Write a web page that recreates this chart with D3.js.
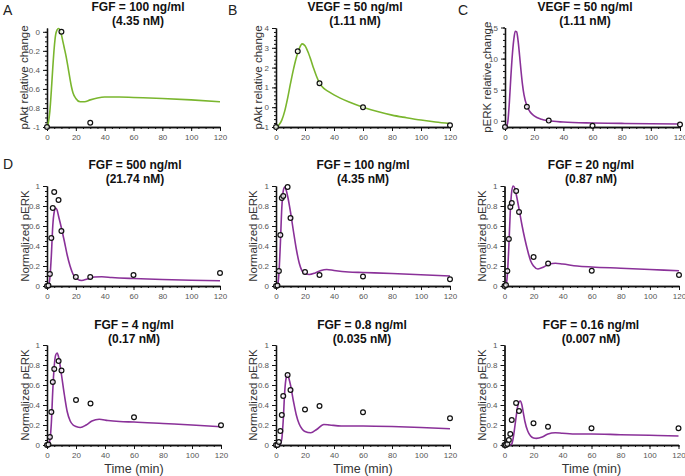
<!DOCTYPE html>
<html>
<head>
<meta charset="utf-8">
<script src="https://cdn.jsdelivr.net/npm/d3@7"></script>
<style>
  body { margin: 0; background: #fff; }
  text { font-family: "Liberation Sans", Arial, sans-serif; }
</style>
</head>
<body>
<div id="chart"></div>
<script>
const width = 685;
const height = 476;

// ---- data ----
const xTicks = [0, 20, 40, 60, 80, 100, 120];
const dTimes = [0, 1, 2, 3, 4, 5, 8, 10, 20, 30, 60, 120];

// A: pAkt, FGF 100 ng/ml
const aCurveT = [0, 1, 2, 3, 4, 5, 6, 7, 8, 9, 10, 11, 12, 13, 14, 15, 16, 17, 18, 20, 23, 26, 30, 35, 40, 50, 60, 80, 100, 120];
const aCurveV = [-1, -0.95, -0.83, -0.62, -0.38, -0.17, -0.03, 0.02, 0.035, 0.02, -0.03, -0.1, -0.17, -0.24, -0.32, -0.41, -0.5, -0.58, -0.64, -0.7, -0.735, -0.735, -0.715, -0.695, -0.685, -0.685, -0.69, -0.7, -0.715, -0.735];
const aPtsT = [0, 10, 30];
const aPtsV = [-1, 0, -0.955];

// B: pAkt, VEGF 50 ng/ml
const bCurveT = [0, 2, 4, 6, 8, 10, 12, 14, 16, 18, 20, 22, 24, 26, 28, 30, 33, 36, 40, 50, 60, 70, 80, 90, 100, 110, 120];
const bCurveV = [-1, -0.9, -0.65, -0.2, 0.45, 1.2, 1.9, 2.5, 2.95, 3.2, 3.1, 2.8, 2.4, 1.95, 1.55, 1.22, 0.95, 0.8, 0.62, 0.27, 0.0, -0.22, -0.4, -0.53, -0.65, -0.75, -0.83];
const bPtsT = [0, 15, 30, 60, 120];
const bPtsV = [-1, 2.82, 1.21, 0.0, -0.91];

// C: pERK, VEGF 50 ng/ml
const cCurveT = [0, 1, 2, 3, 4, 5, 6, 7, 8, 9, 10, 11, 12, 13, 15, 17, 20, 25, 30, 40, 60, 80, 100, 120];
const cCurveV = [-1, -0.9, 0, 3, 7, 10.5, 13, 14.4, 14.3, 12.8, 10.5, 8, 5.8, 4.2, 2.4, 1.5, 0.8, 0.25, 0.0, -0.2, -0.35, -0.42, -0.48, -0.52];
const cPtsT = [0, 15, 30, 60, 120];
const cPtsV = [-1, 2.25, 0.03, -0.8, -0.6];

// D: normalized pERK, FGF doses
const d1CurveT = [0, 1, 2, 3, 4, 5, 6, 7, 8, 10, 12, 14, 16, 18, 20, 24, 28, 33, 38, 45, 60, 80, 100, 120];
const d1CurveV = [0, 0.005, 0.08, 0.3, 0.6, 0.74, 0.78, 0.76, 0.7, 0.58, 0.45, 0.31, 0.2, 0.12, 0.08, 0.055, 0.07, 0.09, 0.092, 0.085, 0.075, 0.065, 0.058, 0.052];
const d1Pts = [0, 0.005, 0.12, 0.48, 0.78, 0.94, 0.86, 0.55, 0.09, 0.09, 0.11, 0.13];

const d2CurveT = [0, 1, 2, 3, 4, 5, 6, 7, 8, 10, 12, 14, 16, 18, 20, 23, 27, 31, 35, 40, 50, 60, 80, 100, 120];
const d2CurveV = [0, 0.01, 0.12, 0.42, 0.78, 0.95, 0.99, 0.96, 0.9, 0.74, 0.55, 0.37, 0.23, 0.15, 0.125, 0.115, 0.13, 0.155, 0.165, 0.155, 0.14, 0.135, 0.125, 0.113, 0.1];
const d2Pts = [0, 0.005, 0.15, 0.51, 0.88, 0.9, 0.99, 0.68, 0.14, 0.11, 0.095, 0.067];

const d3CurveT = [0, 1, 2, 3, 4, 5, 6, 7, 8, 10, 12, 14, 16, 18, 20, 23, 27, 31, 35, 40, 50, 60, 80, 100, 120];
const d3CurveV = [0, 0.01, 0.12, 0.4, 0.75, 0.95, 1.0, 0.98, 0.92, 0.77, 0.61, 0.47, 0.35, 0.25, 0.2, 0.17, 0.19, 0.22, 0.228, 0.22, 0.2, 0.19, 0.178, 0.165, 0.152];
const d3Pts = [0, 0.01, 0.15, 0.47, 0.79, 0.83, 0.95, 0.74, 0.29, 0.225, 0.153, 0.11];

const d4CurveT = [0, 1, 2, 3, 4, 5, 6, 7, 8, 10, 12, 14, 16, 18, 20, 23, 27, 31, 36, 42, 50, 60, 80, 100, 120];
const d4CurveV = [0, 0.005, 0.05, 0.22, 0.55, 0.79, 0.9, 0.92, 0.88, 0.7, 0.5, 0.33, 0.24, 0.2, 0.185, 0.175, 0.2, 0.24, 0.258, 0.245, 0.235, 0.23, 0.215, 0.2, 0.183];
const d4Pts = [0, 0.005, 0.08, 0.33, 0.63, 0.76, 0.84, 0.745, 0.45, 0.415, 0.277, 0.197];

const d5CurveT = [0, 2, 3, 4, 5, 6, 7, 8, 9, 10, 12, 14, 16, 18, 20, 24, 28, 33, 37, 45, 60, 80, 100, 120];
const d5CurveV = [0, 0, 0.01, 0.06, 0.25, 0.53, 0.67, 0.7, 0.66, 0.6, 0.44, 0.3, 0.21, 0.16, 0.135, 0.122, 0.155, 0.205, 0.2, 0.19, 0.19, 0.185, 0.175, 0.163];
const d5Pts = [0, 0, 0.03, 0.14, 0.3, 0.49, 0.7, 0.55, 0.355, 0.39, 0.327, 0.267];

const d6CurveT = [0, 4, 5, 6, 7, 8, 9, 10, 11, 12, 13, 14, 16, 18, 20, 22, 26, 30, 35, 40, 50, 60, 80, 100, 120];
const d6CurveV = [0, 0, 0.01, 0.07, 0.17, 0.28, 0.38, 0.43, 0.44, 0.4, 0.32, 0.24, 0.14, 0.09, 0.07, 0.066, 0.08, 0.11, 0.123, 0.118, 0.11, 0.11, 0.103, 0.097, 0.09];
const d6Pts = [0, 0, 0.01, 0.05, 0.11, 0.25, 0.42, 0.34, 0.217, 0.183, 0.167, 0.167];

const green = "#7ab62e";
const purple = "#8a3199";

// ---- panel layout ----
const panels = [
  { letter: "A", lx: 3, ly: 15, left: 47, right: 220, top: 28, bottom: 127, tx: 138, ty: 11,
    title: ["FGF = 100 ng/ml", "(4.35 nM)"], yDomain: [-1, 0.04], yMajor: [-1, -0.8, -0.6, -0.4, -0.2, 0], yMinor: d3.range(-1, 0.01, 0.05),
    yLabel: "pAkt relative change", labX: 24, color: green, ct: aCurveT, cv: aCurveV, pt: aPtsT, pv: aPtsV },
  { letter: "B", lx: 228, ly: 15, left: 276, right: 450, top: 28, bottom: 127, tx: 355, ty: 11,
    title: ["VEGF = 50 ng/ml", "(1.11 nM)"], yDomain: [-1, 4], yMajor: [-1, 0, 1, 2, 3, 4], yMinor: d3.range(-1, 4.01, 0.2),
    yLabel: "pAkt relative change", labX: 258, color: green, ct: bCurveT, cv: bCurveV, pt: bPtsT, pv: bPtsV },
  { letter: "C", lx: 458, ly: 15, left: 505, right: 680, top: 27.5, bottom: 127, tx: 585, ty: 11,
    title: ["VEGF = 50 ng/ml", "(1.11 nM)"], yDomain: [-1, 15], yMajor: [0, 5, 10, 15], yMinor: d3.range(-1, 15.01, 1),
    yLabel: "pERK relative change", labX: 487, color: purple, ct: cCurveT, cv: cCurveV, pt: cPtsT, pv: cPtsV },
  { letter: "D", lx: 3, ly: 169, left: 47, right: 220, top: 186, bottom: 286, tx: 135, ty: 169,
    title: ["FGF = 500 ng/ml", "(21.74 nM)"], ct: d1CurveT, cv: d1CurveV, pt: dTimes, pv: d1Pts, labX: 25 },
  { left: 276, right: 450, top: 186, bottom: 286, tx: 363, ty: 169,
    title: ["FGF = 100 ng/ml", "(4.35 nM)"], ct: d2CurveT, cv: d2CurveV, pt: dTimes, pv: d2Pts, labX: 253 },
  { left: 504.5, right: 679, top: 186, bottom: 286, tx: 591, ty: 169,
    title: ["FGF = 20 ng/ml", "(0.87 nM)"], ct: d3CurveT, cv: d3CurveV, pt: dTimes, pv: d3Pts, labX: 482 },
  { left: 47, right: 221, top: 345, bottom: 445, tx: 134, ty: 329, xLabel: true,
    title: ["FGF = 4 ng/ml", "(0.17 nM)"], ct: d4CurveT, cv: d4CurveV, pt: dTimes, pv: d4Pts, labX: 25 },
  { left: 276, right: 450, top: 345, bottom: 445, tx: 362, ty: 329, xLabel: true,
    title: ["FGF = 0.8 ng/ml", "(0.035 nM)"], ct: d5CurveT, cv: d5CurveV, pt: dTimes, pv: d5Pts, labX: 253 },
  { left: 504.5, right: 678.5, top: 345, bottom: 445, tx: 591, ty: 329, xLabel: true,
    title: ["FGF = 0.16 ng/ml", "(0.007 nM)"], ct: d6CurveT, cv: d6CurveV, pt: dTimes, pv: d6Pts, labX: 482 }
];

// defaults for the D panels
panels.forEach((p, i) => {
  if (i >= 3) {
    p.yDomain = [0, 1];
    p.yMajor = [0, 0.2, 0.4, 0.6, 0.8, 1];
    p.yMinor = d3.range(0, 1.01, 0.05);
    p.yLabel = "Normalized pERK";
    p.color = purple;
  }
});

const svg = d3.select("#chart")
  .append("svg")
  .attr("width", width)
  .attr("height", height);

const fmt = d => String(d);

panels.forEach(p => {
  const g = svg.append("g");
  const x = d3.scaleLinear().domain([0, 120]).range([p.left, p.right]);
  const y = d3.scaleLinear().domain(p.yDomain).range([p.bottom, p.top]);

  if (p.letter) {
    svg.append("text")
      .attr("x", p.lx).attr("y", p.ly)
      .attr("font-size", 14).attr("fill", "#222")
      .text(p.letter);
  }

  // title
  p.title.forEach((t, k) => {
    g.append("text")
      .attr("x", p.tx).attr("y", p.ty + k * 13.5)
      .attr("text-anchor", "middle")
      .attr("font-size", 12).attr("font-weight", "bold").attr("fill", "#111")
      .text(t);
  });

  // y label
  g.append("text")
    .attr("transform", `translate(${p.labX},${(p.top + p.bottom) / 2}) rotate(-90)`)
    .attr("text-anchor", "middle")
    .attr("dy", "0.35em")
    .attr("font-size", 11.5).attr("fill", "#333")
    .text(p.yLabel);

  // minor ticks
  g.append("g")
    .attr("transform", `translate(${p.left},0)`)
    .call(d3.axisLeft(y).tickValues(p.yMinor).tickSize(2).tickSizeOuter(0).tickFormat(""));
  g.append("g")
    .attr("transform", `translate(0,${p.bottom})`)
    .call(d3.axisBottom(x).tickValues(d3.range(0, 121, 5)).tickSize(2).tickSizeOuter(0).tickFormat(""));

  // major ticks
  g.append("g")
    .attr("class", "ax")
    .attr("transform", `translate(${p.left},0)`)
    .call(d3.axisLeft(y).tickValues(p.yMajor).tickSize(4).tickSizeOuter(0).tickPadding(3).tickFormat(fmt));
  g.append("g")
    .attr("class", "ax")
    .attr("transform", `translate(0,${p.bottom})`)
    .call(d3.axisBottom(x).tickValues(xTicks).tickSize(4).tickSizeOuter(0).tickPadding(3));

  g.selectAll(".domain").attr("stroke", "#111").attr("stroke-width", 1.3);
  g.selectAll(".tick line").attr("stroke", "#111");
  g.selectAll(".ax text").attr("font-size", 8).attr("fill", "#555")
    .attr("font-family", "'Liberation Sans', Arial, sans-serif");

  if (p.xLabel) {
    g.append("text")
      .attr("x", (p.left + p.right) / 2).attr("y", 473)
      .attr("text-anchor", "middle")
      .attr("font-size", 12.5).attr("fill", "#333")
      .text("Time (min)");
  }

  // model curve
  const line = d3.line()
    .x(d => x(d[0]))
    .y(d => y(d[1]))
    .curve(d3.curveMonotoneX);

  g.append("path")
    .datum(p.ct.map((t, k) => [t, p.cv[k]]))
    .attr("fill", "none")
    .attr("stroke", p.color)
    .attr("stroke-width", 1.6)
    .attr("d", line);

  // data points
  g.selectAll("circle")
    .data(p.pt.map((t, k) => [t, p.pv[k]]))
    .enter()
    .append("circle")
    .attr("cx", d => x(d[0]))
    .attr("cy", d => y(d[1]))
    .attr("r", 2.4)
    .attr("fill", "#fff")
    .attr("fill-opacity", 0.75)
    .attr("stroke", "#111")
    .attr("stroke-width", 1.2);
});
</script>
</body>
</html>
